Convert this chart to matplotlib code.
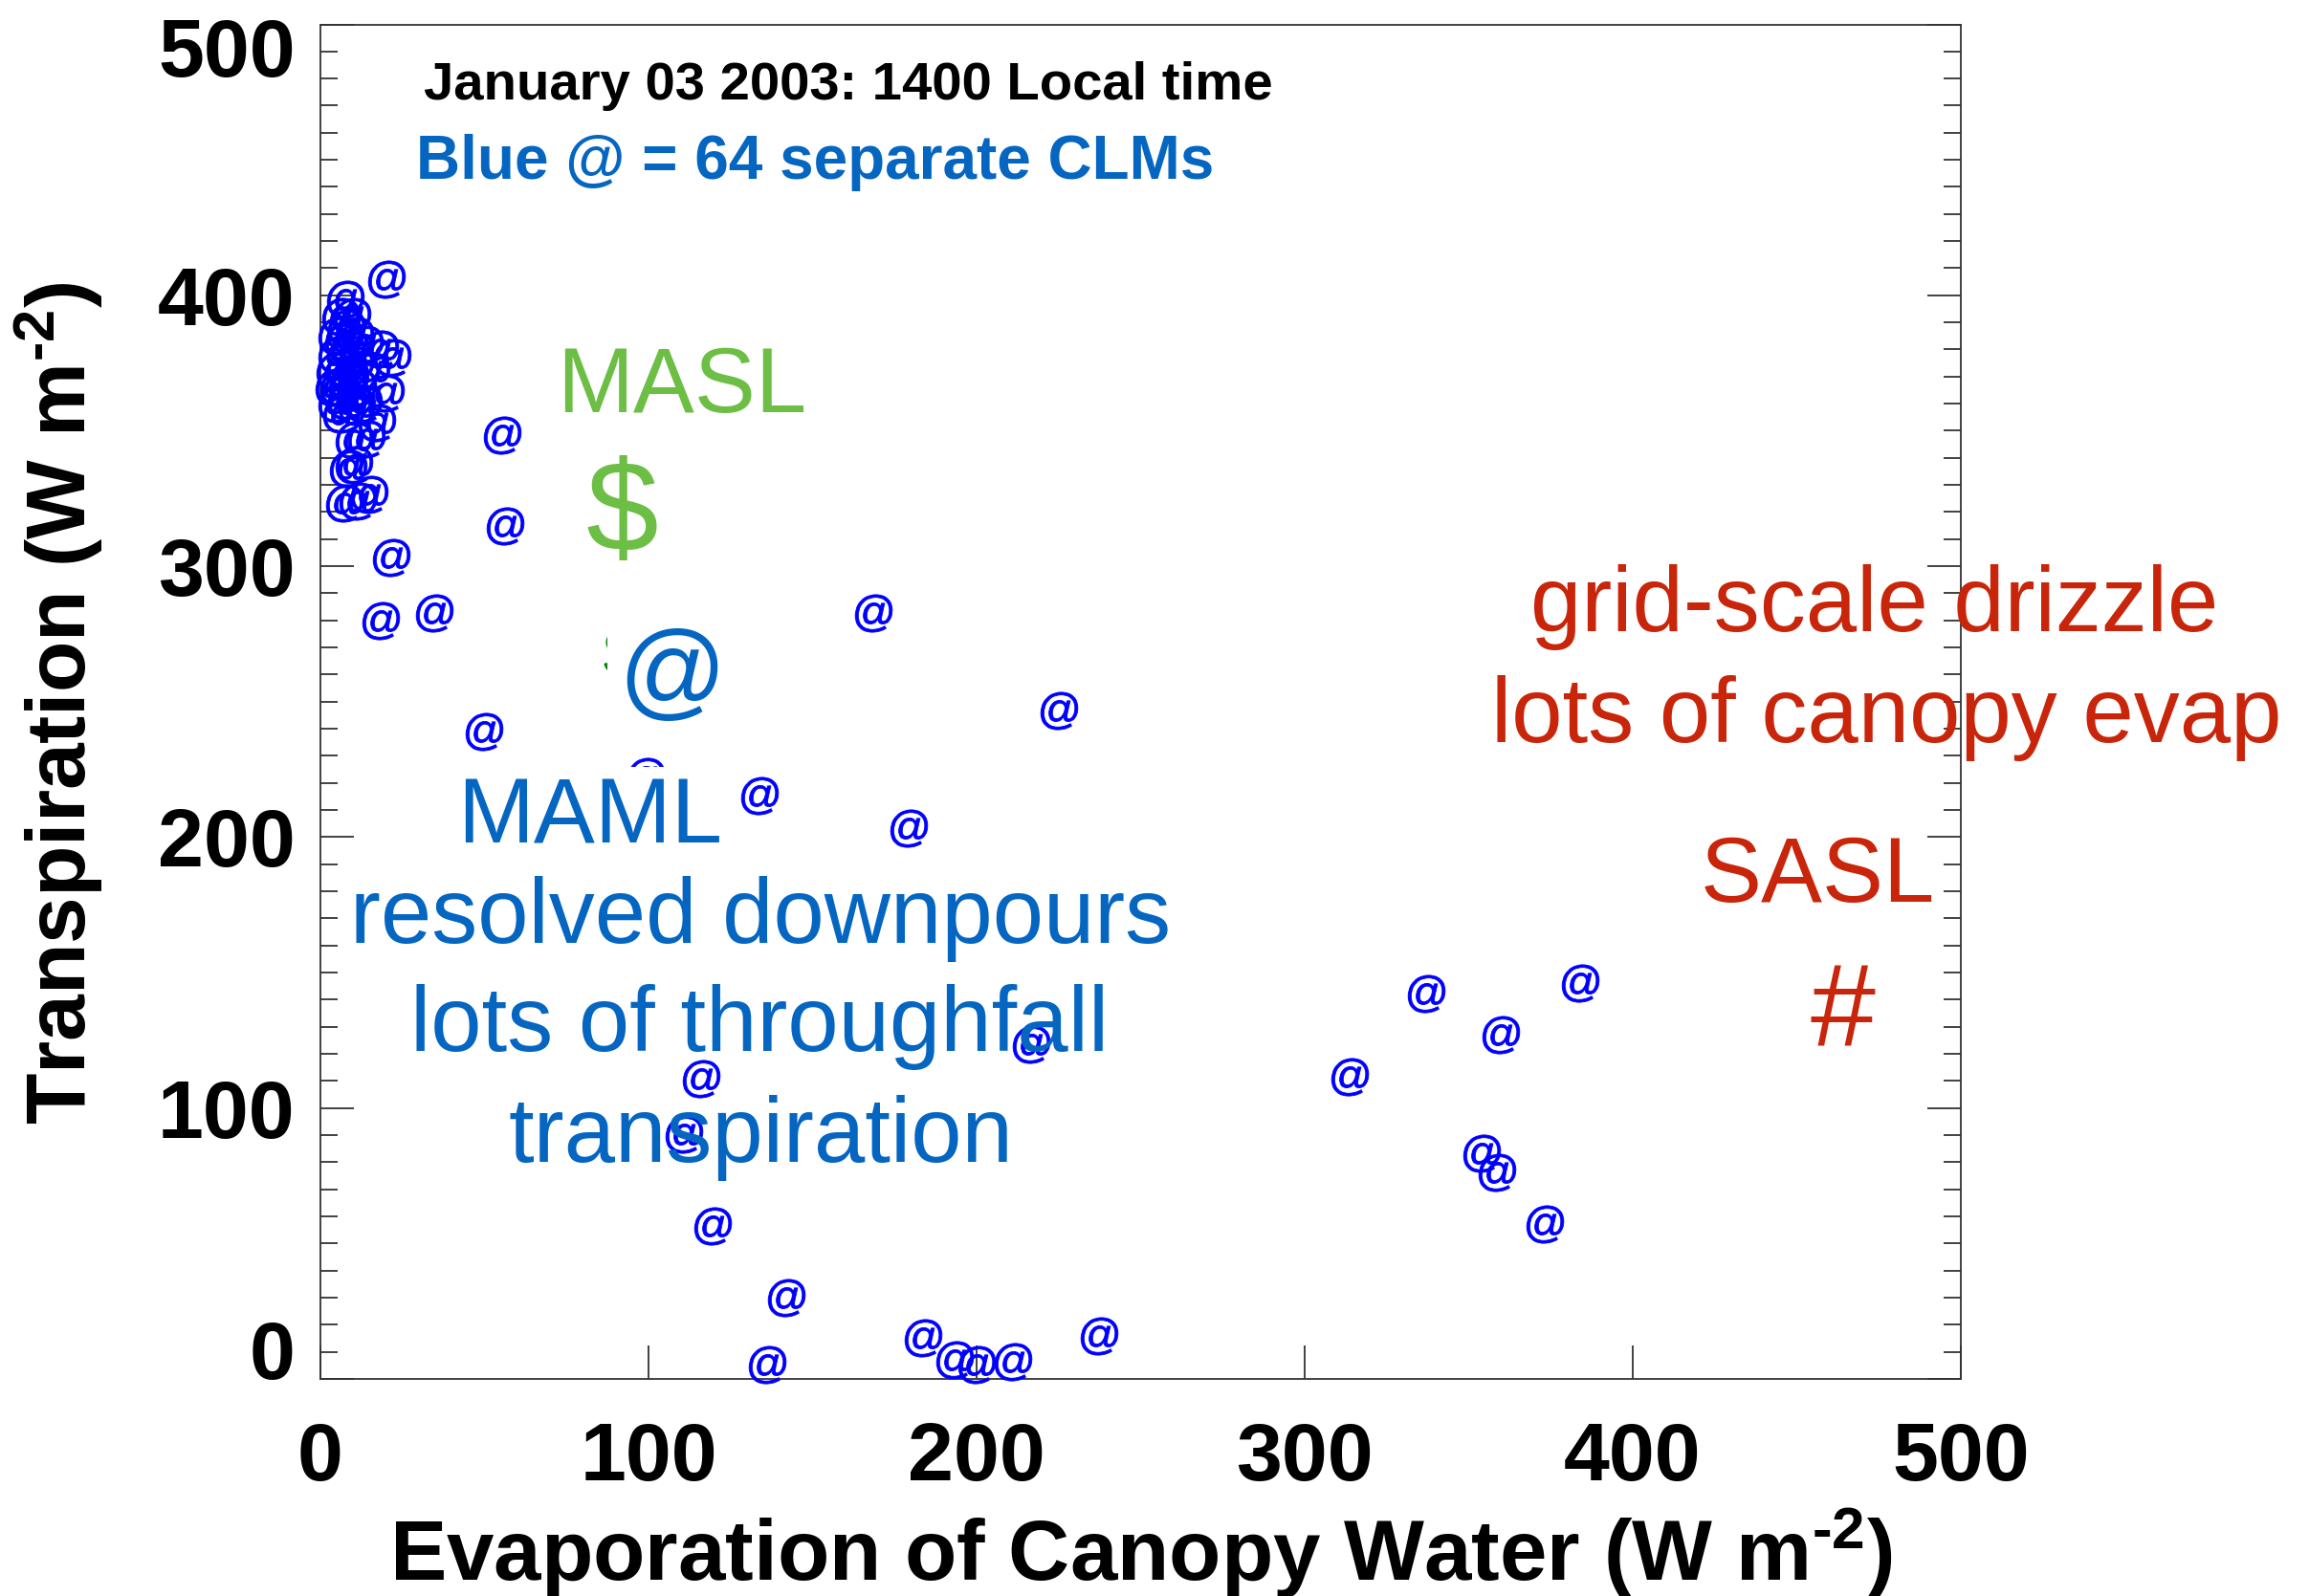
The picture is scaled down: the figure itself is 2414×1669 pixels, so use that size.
import matplotlib
matplotlib.use("Agg")
import matplotlib.pyplot as plt
from matplotlib.ticker import MultipleLocator
from matplotlib.textpath import TextPath
from matplotlib.font_manager import FontProperties
from matplotlib.transforms import Affine2D, ScaledTranslation

plt.rcParams['font.family'] = ['Liberation Sans', 'DejaVu Sans']
plt.rcParams['mathtext.fontset'] = 'custom'
plt.rcParams['mathtext.rm'] = 'Liberation Sans:bold'
plt.rcParams['mathtext.bf'] = 'Liberation Sans:bold'
plt.rcParams['mathtext.default'] = 'bf'

# 64 separate CLM columns: canopy evaporation vs transpiration (W m-2)
clm_evap = [
    # low transpiration, mid evaporation
    237.2, 183.7, 193.2, 199.9, 211.1, 136.1, 142.0, 119.5, 110.9, 115.9,
    216.5, 179.2, 133.9, 225.1, 168.5,
    # left side
    49.9, 34.6, 18.4, 21.6, 56.2, 55.3, 20.2,
    # high evaporation group
    336.9, 384.1, 359.8, 313.6, 354.0, 358.5, 373.3,
    # dense cluster near zero evaporation
    7.5, 6.0, 5.0, 8.0, 10.5, 5.0, 9.0, 13.5, 18.0, 22.0,
    4.5, 7.5, 10.5, 15.5, 5.5, 8.5, 11.5, 19.8, 5.0, 8.0,
    11.0, 6.5, 17.1, 14.0, 10.2, 10.3, 8.5, 14.8, 7.2, 11.5,
    7.0, 9.5, 4.0, 13.0, 9.0,
]
clm_trans = [
    15.8, 15.2, 7.1, 5.4, 6.5, 5.4, 29.9, 56.5, 90.2, 110.9,
    123.4, 203.3, 215.2, 246.7, 282.6,
    239.1, 282.6, 279.9, 303.3, 314.7, 348.4, 406.0,
    142.4, 146.2, 127.2, 111.4, 83.2, 76.1, 57.1,
    398.5, 392.0, 385.0, 388.0, 385.0, 378.0, 380.0, 382.0, 380.0, 377.0,
    372.0, 373.0, 374.0, 372.0, 366.0, 368.0, 366.0, 364.0, 360.0, 361.0,
    359.0, 356.0, 353.0, 347.0, 346.5, 337.5, 336.0, 326.6, 323.4, 324.0,
    383.0, 392.0, 366.0, 360.0, 370.0,
]

# single-model runs
maml_evap, maml_trans = [99.1], [222.3]
masl_evap, masl_trans = [91.5], [267.8]

xticks = [0, 100, 200, 300, 400, 500]
yticks = [0, 100, 200, 300, 400, 500]

BLUE_TXT = '#0566C2'
GREEN_TXT = '#6DBE45'
RED_TXT = '#C8250A'


def glyph_marker(ch):
    p = TextPath((0, 0), ch, size=10, prop=FontProperties(family='Liberation Sans'))
    ext = p.get_extents()
    cx, cy = (ext.x0 + ext.x1) / 2, (ext.y0 + ext.y1) / 2
    return p.transformed(Affine2D().translate(-cx, -cy))


fig = plt.figure(figsize=(24.14, 16.69), dpi=100)
ax = fig.add_axes([0.13877, 0.13601, 0.71044, 0.84871])

at = glyph_marker('@')
ax.scatter(clm_evap, clm_trans, marker=at, s=33 ** 2, color='#0000FF',
           edgecolors='#0000FF', linewidths=0.6, clip_on=False, zorder=3)
ax.scatter(maml_evap, maml_trans, marker=at, s=33 ** 2, color='#0000FF',
           edgecolors='#0000FF', linewidths=0.6, clip_on=False, zorder=3)
ax.scatter(masl_evap, masl_trans, marker=glyph_marker('$'), s=40 ** 2,
           color='#008000', linewidths=0, clip_on=False, zorder=3)

ax.set_xlim(0, 500)
ax.set_ylim(0, 500)
ax.set_xticks(xticks, labels=[str(v) for v in xticks])
ax.set_yticks(yticks, labels=[str(v) for v in yticks])
ax.yaxis.set_minor_locator(MultipleLocator(10))

for s in ax.spines.values():
    s.set_linewidth(1.3)
    s.set_color('#333333')

ax.tick_params(axis='both', which='both', direction='in', color='#333333', width=1.3)
ax.tick_params(axis='y', which='major', length=25, left=True, right=True, pad=19)
ax.tick_params(axis='y', which='minor', length=13, left=True, right=True)
ax.tick_params(axis='x', which='major', length=25, top=False, pad=32)
for lab in ax.get_xticklabels() + ax.get_yticklabels():
    lab.set_fontsize(62)
    lab.set_fontweight('bold')
ylabs = ax.get_yticklabels()
ylabs[0].set_va('baseline')
ylabs[-1].set_va('top')
ylabs[-1].set_transform(ylabs[-1].get_transform() +
                        ScaledTranslation(0, 0.08, fig.dpi_scale_trans))

xlab_fancy = 'Evaporation of Canopy Water (W m$^{\\text{-}2}$)'
ylab_fancy = 'Transpiration (W m$^{\\text{-}2}$)'
ax.set_xlabel(xlab_fancy, fontsize=64, fontweight='bold', va='center')
ax.xaxis.set_label_coords(0.5, -0.1285)
ax.set_ylabel(ylab_fancy, fontsize=63, fontweight='bold', va='center')
ax.yaxis.set_label_coords(-0.1594, 0.499)

# header lines
ax.text(31.4, 472.3, 'January 03 2003: 1400 Local time', fontsize=40.5,
        fontweight='bold', color='black', va='baseline')
ax.text(29.2, 443.0, 'Blue @ = 64 separate CLMs', fontsize=46,
        fontweight='bold', color=BLUE_TXT, va='baseline')

# MASL
ax.text(110.1, 357, 'MASL', fontsize=69, color=GREEN_TXT, ha='center', va='baseline')
ax.text(92.0, 317.8, '$', fontsize=98, color=GREEN_TXT, ha='center', va='center')

# MAML
ax.text(107.2, 258.7, '@', fontsize=80, color=BLUE_TXT, ha='center', va='center',
        zorder=5, bbox=dict(facecolor='white', edgecolor='none', pad=8))
ax.text(82.0, 198, 'MAML', fontsize=69, color=BLUE_TXT, ha='center', va='baseline',
        zorder=5, bbox=dict(facecolor='white', edgecolor='none', pad=6))
ax.text(134.1, 161, 'resolved downpours', fontsize=69, color=BLUE_TXT,
        ha='center', va='baseline')
ax.text(133.7, 121, 'lots of throughfall', fontsize=69, color=BLUE_TXT,
        ha='center', va='baseline')
ax.text(134.1, 80, 'transpiration', fontsize=69, color=BLUE_TXT,
        ha='center', va='baseline')

# SASL
ax.text(473.7, 276, 'grid-scale drizzle', fontsize=69, color=RED_TXT,
        ha='center', va='baseline')
ax.text(477.3, 235, 'lots of canopy evap', fontsize=69, color=RED_TXT,
        ha='center', va='baseline')
ax.text(456.2, 176, 'SASL', fontsize=69, color=RED_TXT, ha='center', va='baseline')
ax.text(464.0, 134.3, '#', fontsize=88, color=RED_TXT, ha='center', va='center')

try:
    fig.canvas.draw()
except Exception:
    ax.set_xlabel('Evaporation of Canopy Water (W m$^{-2}$)', fontsize=64,
                  fontweight='bold', va='center')
    ax.set_ylabel('Transpiration (W m$^{-2}$)', fontsize=63, fontweight='bold',
                  va='center')

fig.savefig('out.png', dpi=100)
